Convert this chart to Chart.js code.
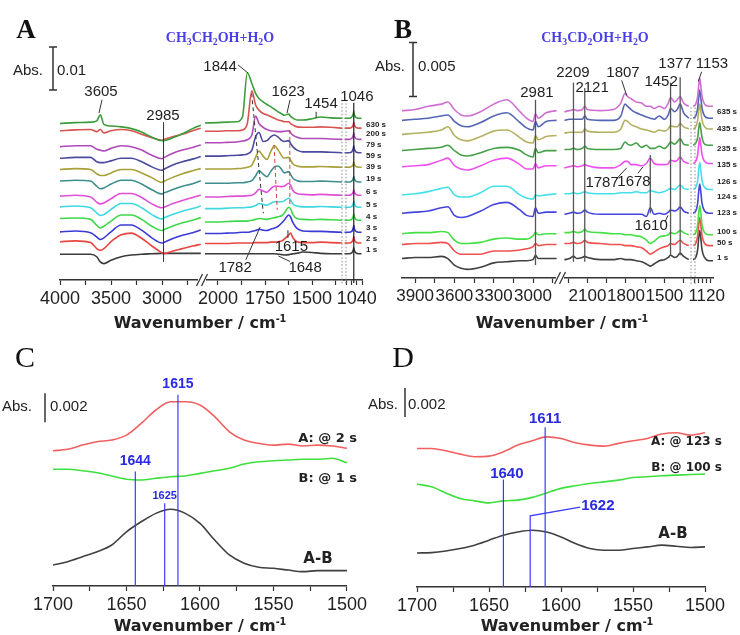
<!DOCTYPE html>
<html><head><meta charset="utf-8">
<script src="https://cdn.jsdelivr.net/npm/chart.js@4/dist/chart.umd.min.js"></script>
<style>
html,body{margin:0;padding:0;background:#fff}
body{width:740px;height:635px;position:relative;overflow:hidden;font-family:"Liberation Sans",Arial,sans-serif;color:#222}
canvas{position:absolute}
.t,.l,.r{position:absolute;line-height:1;white-space:nowrap}
.t{transform:translate(-50%,-50%)}
.l{transform:translate(0,-50%)}
.r{transform:translate(-100%,-50%)}
.let{font:bold 27px "Liberation Serif",serif;color:#111}
.let2{font:30px "Liberation Serif",serif;color:#111}
.chem{font:bold 14px "Liberation Serif",serif;color:#4a3ee6}
.chem sub{font-size:70%;vertical-align:-0.3em;line-height:0}
.abs{font:15px "Liberation Sans",Arial,sans-serif;color:#222}
.ax{font:bold 16px "DejaVu Sans",sans-serif;color:#222}
.ax sup{font-size:60%;vertical-align:0.6em;line-height:0}
.sl{font:bold 12px "DejaVu Sans",sans-serif;color:#222}
.ab{font:bold 15px "DejaVu Sans",sans-serif;color:#222}
</style></head><body>
<canvas id="cA" width="400" height="335" style="left:0;top:0"></canvas>
<canvas id="cB" width="370" height="335" style="left:370px;top:0"></canvas>
<canvas id="cC" width="370" height="305" style="left:0;top:330px"></canvas>
<canvas id="cD" width="370" height="305" style="left:370px;top:330px"></canvas>

<div class="t let" style="left:26px;top:29px">A</div>
<div class="t chem" style="left:220px;top:38px">CH<sub>3</sub>CH<sub>2</sub>OH+H<sub>2</sub>O</div>
<div class="t abs" style="left:28px;top:69px">Abs.</div>
<div class="l abs" style="left:57px;top:69px">0.01</div>
<div class="t ax" style="left:200px;top:322px">Wavenumber / cm<sup>-1</sup></div>

<div class="t let" style="left:403px;top:29px">B</div>
<div class="t chem" style="left:595px;top:38px">CH<sub>3</sub>CD<sub>2</sub>OH+H<sub>2</sub>O</div>
<div class="t abs" style="left:390px;top:65px">Abs.</div>
<div class="l abs" style="left:418px;top:65px">0.005</div>
<div class="t ax" style="left:562px;top:322px">Wavenumber / cm<sup>-1</sup></div>

<div class="t let2" style="left:25px;top:357px">C</div>
<div class="t abs" style="left:17px;top:405px">Abs.</div>
<div class="l abs" style="left:50px;top:405px">0.002</div>
<div class="r sl" style="left:357px;top:437px;font-size:13px">A: @ 2 s</div>
<div class="r sl" style="left:357px;top:477px;font-size:13px">B: @ 1 s</div>
<div class="t ab" style="left:318px;top:558px">A-B</div>
<div class="t ax" style="left:200px;top:625px">Wavenumber / cm<sup>-1</sup></div>

<div class="t let2" style="left:403px;top:357px">D</div>
<div class="t abs" style="left:383px;top:403px">Abs.</div>
<div class="l abs" style="left:408px;top:403px">0.002</div>
<div class="r sl" style="left:722px;top:441px">A: @ 123 s</div>
<div class="r sl" style="left:722px;top:467px">B: @ 100 s</div>
<div class="t ab" style="left:673px;top:533px">A-B</div>
<div class="t ax" style="left:567px;top:625px">Wavenumber / cm<sup>-1</sup></div>

<script>
// ================= DATA (absorbance in mAbs, wavenumbers in cm-1) =================
// Axis ticks and tick labels
const A_X1_TICKS = [4000,3750,3500,3250,3000,2750],  A_X1_LABELS = [4000,3500,3000];
const A_X2_TICKS = [2000,1875,1750,1625,1500,1375],  A_X2_LABELS = [2000,1750,1500];
const A_X3_TICKS = [1060,1050,1040,1030],            A_X3_LABELS = [1040];
const B_X1_TICKS = [3900,3750,3600,3450,3300,3150,3000,2850], B_X1_LABELS = [3900,3600,3300,3000];
const B_X2_TICKS = [2250,2100,1950,1800,1650,1500,1350],      B_X2_LABELS = [2100,1800,1500];
const B_X3_TICKS = [1180,1160,1140,1120,1100],                B_X3_LABELS = [1120];
const CD_TICKS  = [1700,1675,1650,1625,1600,1575,1550,1525,1500], CD_LABELS = [1700,1650,1600,1550,1500];

// Panel A : CH3CH2OH + H2O
const A_TIMES   = ['630 s','200 s','79 s','59 s','39 s','19 s','6 s','5 s','4 s','3 s','2 s','1 s'];
const A_COLORS  = ['#3a9d3a','#d9534f','#b04ab8','#4a4a9e','#a8a038','#3f8f8f','#e04fd8','#3fd8e0','#3fd84a','#3a3ad8','#e8453f','#3a3a3a'];
const A_OFFSETS = [36.4,34.7,31.0,28.3,25.7,23.0,19.5,17.0,14.3,11.2,8.9,6.0];
const A_LABEL_LEVELS = [36.0,34.0,31.4,28.8,26.3,23.5,20.5,17.4,14.7,12.1,9.5,7.0];
const A_SEG1_WN = [4000,3850,3700,3640,3605,3570,3500,3400,3300,3200,3100,3000,2985,2900,2800,2700,2620];
const A_SEG1 = [
 [0,0.2,0.3,0.6,2.0,-0.2,-0.6,-0.8,-1.2,-2.0,-3.2,-4.0,-4.0,-3.4,-2.4,-1.2,-0.4],
 [0,0.2,0.3,-0.2,0.3,-0.5,0,0.3,0,-0.8,-1.6,-2.2,-2.1,-1.4,-0.8,0,0.6],
 [0,0.2,0.2,-0.6,-0.8,-1.0,-0.4,0.2,0,-0.8,-2.0,-2.8,-2.6,-1.6,-0.8,-0.2,0.4],
 [0,0.2,0.2,-0.8,-1.0,-1.0,-0.6,0,0,-0.8,-2.0,-2.8,-2.6,-1.6,-0.8,-0.2,0.4],
 [0,0.2,0,-1.0,-1.4,-1.4,-0.8,0,0,-0.8,-1.9,-3.0,-2.8,-1.9,-1.0,-0.3,0.2],
 [0,0.2,0,-1.2,-1.8,-1.6,-0.7,0.2,0.2,-0.7,-2.0,-3.0,-2.8,-2.0,-1.2,-0.6,0.1],
 [0,0.2,-0.2,-1.4,-1.8,-1.6,-0.6,0.6,0.6,-0.3,-1.8,-2.7,-2.6,-1.8,-1.0,-0.3,0.2],
 [0,0.2,-0.2,-1.4,-2.0,-1.8,-0.6,0.8,0.8,-0.2,-1.8,-2.8,-2.6,-1.8,-1.0,-0.4,0.2],
 [0,0.1,-0.2,-1.6,-2.2,-1.8,-0.6,0.8,0.8,-0.2,-1.8,-2.8,-2.6,-1.8,-1.0,-0.4,0.2],
 [0,0.2,-0.2,-1.2,-1.8,-1.4,0,1.6,1.6,0.4,-1.4,-2.6,-2.5,-1.6,-0.8,-0.2,0.4],
 [0,0.2,-0.2,-1.6,-2.0,-1.6,0,1.6,2.0,0.8,-1.0,-2.6,-2.8,-2.2,-1.6,-1.0,-0.6],
 [0,0,0,-0.6,-1.8,-2.2,-1.4,-0.6,-0.2,0,0.1,0.2,0.2,0.2,0.2,0.2,0.2]
];
const A_SEG2_WN = [2069,2000,1950,1900,1870,1844,1820,1800,1782,1760,1740,1720,1700,1680,1660,1648,1623,1615,1600,1580,1550,1500,1454,1400,1340];
const A_SEG2 = [
 [0.1,0.2,0.3,0.4,1.5,11.8,9.3,7.0,5.8,5.0,4.4,3.9,3.3,2.7,2.2,1.9,2.2,1.7,1.2,0.8,0.8,1.1,1.5,1.3,1.2],
 [-0.1,-0.1,0,0,0.2,1.7,9.3,6.0,4.8,4.0,3.7,3.3,2.9,2.5,2.3,2.1,2.1,1.7,1.3,0.9,0.8,0.8,0.9,0.8,0.6],
 [0.9,0.9,1.0,1.1,1.3,1.6,2.7,7.1,5.4,4.5,4.0,3.7,3.6,3.5,3.5,3.6,3.7,3.3,2.6,2.2,1.9,1.9,1.9,1.8,1.7],
 [0.5,0.5,0.6,0.7,0.8,1.0,1.9,5.0,6.0,3.9,4.1,5.0,5.4,4.9,4.1,3.9,4.1,3.5,2.6,1.9,1.5,1.5,1.5,1.4,1.3],
 [0.1,0.1,0.1,0.2,0.3,0.5,1.0,2.8,4.3,3.1,2.3,4.1,5.5,4.5,3.1,2.6,2.8,2.2,1.2,0.8,0.6,0.6,0.7,0.6,0.5],
 [-0.5,-0.5,-0.5,-0.4,-0.4,-0.2,0.1,1.2,2.4,1.6,1.0,2.2,3.3,3.5,2.6,1.9,2.2,1.6,0.6,0.1,-0.1,-0.1,0,-0.1,-0.2],
 [-0.2,-0.2,-0.1,0,0,0.1,0.2,0.8,1.6,1.2,0.9,1.7,2.3,2.3,2.2,2.3,3.0,2.6,1.2,0.6,0.4,0.3,0.4,0.3,0.2],
 [-0.4,-0.4,-0.3,-0.2,-0.2,-0.1,0,0.3,0.8,0.6,0.4,0.8,1.2,1.2,1.2,1.4,2.0,1.6,0.6,0.2,0,0,0.1,0,-0.1],
 [-0.8,-0.8,-0.7,-0.6,-0.6,-0.6,-0.4,-0.2,0,-0.1,-0.2,0,0.2,0.4,0.7,1.2,2.6,2.3,0.8,0,-0.2,-0.3,-0.2,-0.3,-0.4],
 [-0.4,-0.4,-0.3,-0.2,-0.1,-0.1,0.1,0.3,0.6,0.4,0.3,0.6,0.9,1.3,2.1,2.7,3.9,3.5,2.0,0.8,0.2,0.1,0.1,0,-0.1],
 [-0.4,-0.4,-0.4,-0.3,-0.3,-0.3,-0.3,-0.2,-0.2,-0.2,-0.2,-0.1,-0.1,0,0.2,0.6,1.6,2.0,0.8,0,-0.2,-0.2,-0.1,-0.2,-0.3],
 [0.1,0.1,0.1,0.1,0.1,0.1,0.1,0.1,0.1,0.1,0.1,0.1,0.1,0,-0.1,-0.2,-0.1,0,0.1,0.2,0.5,0.4,0.2,0.1,0.1]
];
const A_SEG3_WN = [1064,1055,1050,1047,1046,1045,1042,1036,1031];
const A_SEG3 = [
 [1.2,1.2,1.5,2.2,2.8,2.1,1.4,1.2,1.2],
 [0.6,0.6,0.8,1.4,2.0,1.4,0.8,0.6,0.6],
 [1.7,1.7,1.9,2.6,3.2,2.5,1.9,1.7,1.7],
 [1.3,1.3,1.5,2.3,2.9,2.2,1.5,1.3,1.3],
 [0.5,0.5,0.7,1.2,1.7,1.2,0.7,0.5,0.5],
 [-0.2,-0.2,0,0.6,1.1,0.6,0,-0.2,-0.2],
 [0.2,0.2,0.4,1.0,1.5,1.0,0.4,0.2,0.2],
 [-0.1,-0.1,0.1,0.8,1.3,0.8,0.1,-0.1,-0.1],
 [-0.4,-0.4,-0.2,0.5,1.1,0.5,-0.2,-0.4,-0.4],
 [-0.1,-0.1,0.1,0.9,1.5,0.8,0.1,-0.1,-0.1],
 [-0.3,-0.3,-0.1,0.6,1.2,0.6,-0.1,-0.3,-0.3],
 [0.1,0.1,0.3,0.9,1.5,0.9,0.3,0.1,0.1]
];

// Panel B : CH3CD2OH + H2O
const B_TIMES   = ['635 s','435 s','235 s','135 s','126 s','124 s','123 s','100 s','50 s','1 s'];
const B_COLORS  = ['#cf6fd0','#5565b5','#b5b060','#45a048','#f050f0','#45e0ea','#4545dd','#45e045','#f05050','#404040'];
const B_OFFSETS = [15.5,14.6,13.3,11.8,10.3,7.7,6.0,4.1,3.1,1.8];
const B_LABEL_LEVELS = [15.4,13.8,12.0,10.5,8.9,7.5,6.0,4.3,3.3,1.9];
const B_SEG1_WN = [4000,3900,3800,3700,3650,3600,3550,3500,3400,3300,3200,3100,3050,3000,2981,2960,2900,2820];
const B_SEG1 = [
 [0,0.1,0.4,0.6,0.8,0.1,-0.4,-0.5,-0.1,0.6,1.0,-0.1,-0.7,-1.0,-0.3,-0.7,-0.2,0],
 [0,0.1,0.2,0.4,0.5,-0.1,-0.5,-0.6,-0.2,0.4,0.7,-0.2,-0.7,-0.9,-0.1,-0.6,-0.1,0],
 [0,0.1,0.2,0.4,0.7,-0.1,-0.5,-0.6,-0.2,0.3,0.4,-0.3,-0.7,-0.8,-0.1,-0.5,-0.2,-0.1],
 [0,0.1,0.2,0.3,0.5,0,-0.4,-0.5,-0.2,0.2,0.3,0,-0.4,-0.6,0.2,-0.2,0,0],
 [0,0.1,0.2,0.6,0.8,0.1,-0.2,-0.3,0.1,0.6,0.8,0.2,-0.2,-0.2,0.3,-0.1,0.1,0.1],
 [0,0.1,0.3,0.6,0.7,0,-0.2,-0.2,0.2,0.8,0.8,0,-0.3,-0.4,0,-0.1,0,0.1],
 [0,0.1,0.2,0.5,0.6,-0.2,-0.4,-0.3,0.2,0.8,1.0,0.3,-0.2,-0.3,0.5,0,0.1,0.1],
 [0,0.1,0.1,0.2,0.1,-0.6,-0.9,-0.9,-0.8,-0.5,-0.4,-0.5,-0.5,-0.2,0.1,-0.1,0,0],
 [0,0.1,0.1,0.2,0.1,-0.6,-0.9,-0.9,-0.9,-0.6,-0.6,-0.5,-0.4,-0.2,0.1,-0.1,0,0],
 [0,0.1,0.1,0.2,0,-0.6,-0.9,-1.0,-0.8,-0.4,-0.3,-0.2,-0.2,-0.1,0.3,0,0,0]
];
const B_SEG2_WN = [2280,2240,2209,2180,2140,2121,2100,2000,1900,1840,1807,1787,1760,1720,1678,1640,1610,1580,1540,1500,1470,1452,1420,1400,1377,1350,1310];
const B_SEG2 = [
 [-0.1,0,0.1,0,0.1,0.4,0.1,0,0.1,0.7,1.6,1.3,1.1,0.8,0.7,0.4,0.4,0.2,0.4,0.2,0.7,1.2,0.8,1.0,1.3,0.7,0.4],
 [0,0.1,0.1,0.1,0.1,0.4,0.1,0,0,0.4,1.5,1.3,1.0,0.7,0.5,0.3,0.2,0.1,0.4,0.1,0.5,1.1,0.8,1.0,1.5,0.7,0.2],
 [0.1,0.2,0.2,0.2,0.2,0.5,0.3,0.2,0.2,0.5,1.3,1.2,0.9,0.7,0.5,0.4,0.3,0.2,0.4,0.3,0.5,0.8,0.7,0.7,1.0,0.7,0.5],
 [0.1,0.1,0.2,0.1,0.2,0.4,0.2,0.1,0.1,0.2,0.8,0.6,0.5,0.7,0.3,0.5,0.2,0.2,0.4,0.2,0.5,0.8,0.6,0.8,1.1,0.6,0.5],
 [-0.1,0,0.1,0,0.1,0.2,0.1,-0.1,-0.1,0.2,0.5,0.5,0.2,0.2,0.1,0.3,0.8,0.3,0.2,0.2,0.3,0.6,0.5,0.6,0.9,0.5,0.3],
 [0.1,0.1,0.2,0.1,0.2,0.3,0.2,0.1,0.1,0.2,0.2,0.2,0.2,0.3,0.2,0.2,0.4,0.3,0.2,0.3,0.5,0.6,0.5,0.7,0.9,0.6,0.5],
 [-0.1,0,0.1,0,0.1,0.3,0.1,-0.1,-0.1,-0.1,-0.1,-0.1,-0.1,-0.1,-0.1,-0.3,0.5,-0.1,0,-0.1,0.1,0.3,0.2,0.3,0.6,0.2,0],
 [0.1,0.1,0.2,0.1,0.2,0.4,0.2,0.1,0,0,-0.1,-0.1,-0.1,-0.2,-0.3,-0.6,-0.9,-0.7,-0.3,-0.2,-0.1,0.1,0,0.1,0.3,0.1,-0.1],
 [0.1,0.1,0.2,0.1,0.2,0.4,0.2,0.1,0,0,-0.1,-0.1,-0.1,-0.2,-0.3,-0.6,-0.9,-0.7,-0.4,-0.2,-0.1,0.1,0,0.2,0.4,0.1,-0.1],
 [-0.1,0,0.2,0,0.1,0.2,0.1,-0.1,-0.1,0,-0.1,-0.1,-0.1,-0.2,-0.3,-0.5,-0.7,-0.5,-0.2,-0.1,0.1,0.3,0.1,0.2,0.5,0.2,-0.1]
];
const B_SEG3_WN = [1185,1172,1163,1158,1153,1148,1142,1130,1110,1090];
const B_SEG3 = [
 [0.4,0.6,1.3,2.3,3.0,2.3,1.3,0.6,0.4,0.4],
 [0.2,0.4,1.1,2.1,2.8,2.1,1.1,0.4,0.2,0.2],
 [0.5,0.7,1.3,2.2,2.8,2.2,1.3,0.7,0.5,0.5],
 [0.5,0.7,1.2,2.0,2.6,2.0,1.2,0.6,0.5,0.5],
 [0.3,0.5,1.1,2.0,2.7,2.0,1.1,0.5,0.3,0.3],
 [0.5,0.7,1.3,2.3,3.0,2.3,1.3,0.7,0.5,0.5],
 [0,0.2,0.9,2.0,2.7,2.0,0.9,0.2,0,0],
 [-0.1,0.1,0.8,1.9,2.6,1.9,0.8,0.1,-0.1,-0.1],
 [-0.1,0.1,0.8,1.8,2.5,1.8,0.8,0.1,-0.1,-0.1],
 [-0.1,0.1,0.8,1.9,2.6,1.9,0.8,0.1,-0.2,-0.2]
];

// Panels C and D : difference spectra 1700-1500 cm-1
const CD_WN = [1700,1690,1680,1670,1660,1650,1640,1630,1620,1610,1600,1590,1580,1570,1560,1550,1540,1530,1520,1510,1500];
const CD_COLORS = ['#f06060','#3ee03e','#404040'];
const C_OFFSETS = [9.3,8.0,1.4];
const C_A_2S  = [0.03,0.13,0.42,0.65,0.77,1.11,1.92,2.84,3.41,3.41,3.18,2.38,1.34,0.77,0.54,0.42,0.49,0.36,0.42,0.36,0.20];
const C_B_1S  = [0.05,0.05,-0.05,-0.19,-0.41,-0.64,-0.69,-0.57,-0.46,-0.41,-0.23,-0.05,0.12,0.41,0.57,0.64,0.69,0.74,0.74,0.81,0.50];
const C_DIFF  = [0.05,0.28,0.62,0.97,1.43,2.34,3.03,3.61,3.89,3.61,2.92,1.77,0.74,0.17,-0.11,-0.18,-0.30,-0.41,-0.34,-0.34,-0.34];
const D_OFFSETS = [9.5,7.0,2.3];
const D_A_123S = [0.04,0.04,-0.12,-0.35,-0.53,-0.49,-0.19,0.27,0.57,0.84,0.73,0.43,0.27,0.20,0.39,0.57,0.73,1.03,1.12,0.96,1.12];
const D_B_100S = [0.08,-0.10,-0.52,-0.90,-1.07,-1.21,-1.07,-1.02,-0.83,-0.52,-0.21,-0.03,0.13,0.24,0.36,0.54,0.59,0.66,0.70,0.75,0.77];
const D_DIFF   = [0.04,0.07,0.18,0.35,0.58,0.92,1.27,1.49,1.61,1.49,1.15,0.69,0.35,0.23,0.23,0.35,0.46,0.58,0.51,0.42,0.46];

// ================= helpers =================
const SANS = '"Liberation Sans", Arial, sans-serif';
function ds(wn, vals, off, color, axis, width){
  return {data: wn.map((w,i)=>({x:w, y:off+vals[i]})), borderColor:color, backgroundColor:color,
          xAxisID:axis, yAxisID:'y', borderWidth:width||1.6, pointRadius:0, fill:false,
          cubicInterpolationMode:'monotone'};
}
function xAxis(min, max, tickVals, labelVals, weight, fontSize, stack){
  const o = {type:'linear', position:'bottom', reverse:true, min, max,
    afterBuildTicks:(s)=>{ s.ticks = tickVals.map(v=>({value:v})); },
    ticks:{autoSkip:false, maxRotation:0, minRotation:0, padding:3, sampleSize:100,
      color:'#222', font:{size:fontSize, family:SANS},
      callback:(v)=> labelVals.indexOf(Math.round(v))>=0 ? String(Math.round(v)) : ''},
    grid:{display:true, drawOnChartArea:false, drawTicks:true, tickLength:5, color:'#333', tickWidth:1.2},
    border:{display:true, color:'#333', width:1.5},
    afterFit:(s)=>{ s.height = 30; }};
  if (stack){ o.stack = stack; o.stackWeight = weight; }
  return o;
}
function annot(cfg){
  return { id:'annot', afterDraw(chart){
    const ctx = chart.ctx, Y = (v)=>chart.scales.y.getPixelForValue(v);
    const X = (ax,w)=>chart.scales[ax].getPixelForValue(w);
    ctx.save();
    if (cfg.brk){
      const s = chart.scales[cfg.brk], bx = s.right, by = s.top;
      ctx.fillStyle = '#fff'; ctx.fillRect(bx-4, by-3, 8, 6);
      ctx.strokeStyle = '#333'; ctx.lineWidth = 1.2;
      [-2.5,2.5].forEach(d=>{ ctx.beginPath(); ctx.moveTo(bx+d-3, by+6); ctx.lineTo(bx+d+3, by-6); ctx.stroke(); });
    }
    if (cfg.dots){
      const s = chart.scales[cfg.dots.axis];
      ctx.strokeStyle = '#888'; ctx.lineWidth = 1; ctx.setLineDash([1.5,2]);
      [s.left-2, s.left+2].forEach(x=>{ ctx.beginPath(); ctx.moveTo(x, Y(cfg.dots.v0)); ctx.lineTo(x, Y(cfg.dots.v1)); ctx.stroke(); });
      ctx.setLineDash([]);
    }
    (cfg.lines||[]).forEach(l=>{
      ctx.beginPath(); ctx.strokeStyle = l.color||'#333'; ctx.lineWidth = l.width||1; ctx.setLineDash(l.dash||[]);
      l.pts.forEach((p,i)=>{ const x = X(p[0],p[1]), y = Y(p[2]); if(i) ctx.lineTo(x,y); else ctx.moveTo(x,y); });
      ctx.stroke(); ctx.setLineDash([]);
    });
    if (cfg.bar){
      const b = cfg.bar, y0 = Y(b.v0), y1 = Y(b.v1);
      ctx.strokeStyle = '#333'; ctx.lineWidth = 1.5; ctx.beginPath();
      ctx.moveTo(b.x, y0); ctx.lineTo(b.x, y1);
      if (b.cap){ ctx.moveTo(b.x-b.cap, y0); ctx.lineTo(b.x+b.cap, y0); ctx.moveTo(b.x-b.cap, y1); ctx.lineTo(b.x+b.cap, y1); }
      ctx.stroke();
    }
    (cfg.labels||[]).forEach(t=>{
      ctx.font = t.font || ('15px '+SANS); ctx.fillStyle = t.color||'#222';
      ctx.textAlign = t.align||'center'; ctx.textBaseline = 'middle';
      ctx.fillText(t.text, X(t.ax,t.wn), Y(t.v));
    });
    if (cfg.times){
      ctx.font = 'bold 8px '+SANS; ctx.fillStyle = '#222'; ctx.textAlign = 'left'; ctx.textBaseline = 'middle';
      cfg.times.texts.forEach((t,i)=> ctx.fillText(t, chart.chartArea.right + cfg.times.dx, Y(cfg.times.levels[i])));
    }
    ctx.restore();
  }};
}
const baseOpts = (padding, ymax, scales)=>({
  responsive:false, animation:false, devicePixelRatio:1, events:[],
  layout:{padding},
  plugins:{legend:{display:false}, tooltip:{enabled:false}},
  elements:{point:{radius:0}},
  scales: Object.assign({y:{display:false, min:0, max:ymax}}, scales)
});

// ================= Panel A =================
const dsA = [];
A_TIMES.forEach((t,i)=>{
  dsA.push(ds(A_SEG1_WN, A_SEG1[i], A_OFFSETS[i], A_COLORS[i], 'x1'));
  dsA.push(ds(A_SEG2_WN, A_SEG2[i], A_OFFSETS[i], A_COLORS[i], 'x2'));
  dsA.push(ds(A_SEG3_WN, A_SEG3[i], A_OFFSETS[i], A_COLORS[i], 'x3'));
});
new Chart(document.getElementById('cA'), {
  type:'line', data:{datasets:dsA},
  options: baseOpts({left:60,right:38,top:40,bottom:25}, 55.8, {
    x1: xAxis(2608,4000,A_X1_TICKS,A_X1_LABELS,142,18,'a'),
    x2: xAxis(1330,2085,A_X2_TICKS,A_X2_LABELS,142,18,'a'),
    x3: xAxis(1030,1065,A_X3_TICKS,A_X3_LABELS,18,18,'a')
  }),
  plugins:[annot({
    brk:'x1', dots:{axis:'x3', v0:41.9, v1:-1.2},
    bar:{x:53, v0:44.2, v1:54.2, cap:4},
    lines:[
      {pts:[['x1',2985,36.7],['x1',2985,4.2]], color:'#333'},
      {pts:[['x3',1046,41.2],['x3',1046,-0.7]], color:'#222', width:1.2},
      {pts:[['x2',1821,43.4],['x2',1759,15.5]], color:'#333', dash:[4,3]},
      {pts:[['x2',1702,31.4],['x2',1685,16.3]], color:'#d04040', dash:[4,3]},
      {pts:[['x2',1618,34.9],['x2',1618,17.0]], color:'#b05050', dash:[4,3]},
      {pts:[['x1',3588,41.9],['x1',3618,38.8]]},
      {pts:[['x2',1893,50.0],['x2',1840,48.1]]},
      {pts:[['x2',1617,41.9],['x2',1633,38.8]]},
      {pts:[['x2',1478,39.1],['x2',1478,37.7]]},
      {pts:[['x2',1628,9.8],['x2',1628,11.6]]},
      {pts:[['x2',1852,4.7],['x2',1776,12.3]]},
      {pts:[['x2',1617,4.3],['x2',1679,5.6]]}
    ],
    labels:[
      {ax:'x1',wn:3598,v:43.7,text:'3605'},
      {ax:'x1',wn:2990,v:38.1,text:'2985'},
      {ax:'x2',wn:1989,v:49.5,text:'1844'},
      {ax:'x2',wn:1627,v:43.7,text:'1623'},
      {ax:'x2',wn:1452,v:40.9,text:'1454'},
      {ax:'x3',wn:1040,v:42.6,text:'1046'},
      {ax:'x2',wn:1610,v:7.7,text:'1615'},
      {ax:'x2',wn:1909,v:2.8,text:'1782'},
      {ax:'x2',wn:1537,v:2.8,text:'1648'}
    ],
    times:{texts:A_TIMES, levels:A_LABEL_LEVELS, dx:4}
  })]
});

// ================= Panel B =================
const dsB = [];
B_TIMES.forEach((t,i)=>{
  dsB.push(ds(B_SEG1_WN, B_SEG1[i], B_OFFSETS[i], B_COLORS[i], 'x1'));
  dsB.push(ds(B_SEG2_WN, B_SEG2[i], B_OFFSETS[i], B_COLORS[i], 'x2'));
  dsB.push(ds(B_SEG3_WN, B_SEG3[i], B_OFFSETS[i], B_COLORS[i], 'x3'));
});
new Chart(document.getElementById('cB'), {
  type:'line', data:{datasets:dsB},
  options: baseOpts({left:32,right:27,top:40,bottom:27}, 22.04, {
    x1: xAxis(2794,4000,B_X1_TICKS,B_X1_LABELS,158,17,'b'),
    x2: xAxis(1277,2314,B_X2_TICKS,B_X2_LABELS,133,17,'b'),
    x3: xAxis(1090,1185,B_X3_TICKS,B_X3_LABELS,20,17,'b')
  }),
  plugins:[annot({
    brk:'x1', dots:{axis:'x3', v0:15.8, v1:-0.6},
    bar:{x:43, v0:16.8, v1:21.8, cap:4},
    lines:[
      {pts:[['x1',2981,16.5],['x1',2981,1.2]], color:'#555', width:1.3},
      {pts:[['x2',2209,18.1],['x2',2209,1.5]], color:'#555', width:1.3},
      {pts:[['x2',2121,17.6],['x2',2121,1.5]], color:'#555', width:1.3},
      {pts:[['x2',1452,18.1],['x2',1452,2.1]], color:'#555', width:1.3},
      {pts:[['x2',1377,18.6],['x2',1377,2.1]], color:'#555', width:1.3},
      {pts:[['x2',1610,11.4],['x2',1610,6.0]], color:'#555', width:1.3},
      {pts:[['x2',1833,18.3],['x2',1794,16.9]]},
      {pts:[['x3',1144,19.1],['x3',1160,18.2]]},
      {pts:[['x2',1872,9.2],['x2',1794,10.2]]},
      {pts:[['x2',1706,9.7],['x2',1667,10.3]]},
      {pts:[['x2',1495,5.2],['x2',1472,5.8]]}
    ],
    labels:[
      {ax:'x1',wn:2970,v:17.1,text:'2981'},
      {ax:'x2',wn:2213,v:19.0,text:'2209'},
      {ax:'x2',wn:2064,v:17.6,text:'2121'},
      {ax:'x2',wn:1823,v:19.0,text:'1807'},
      {ax:'x2',wn:1526,v:18.2,text:'1452'},
      {ax:'x2',wn:1417,v:19.8,text:'1377'},
      {ax:'x3',wn:1095,v:19.8,text:'1153'},
      {ax:'x2',wn:1986,v:8.8,text:'1787'},
      {ax:'x2',wn:1737,v:8.9,text:'1678'},
      {ax:'x2',wn:1604,v:4.8,text:'1610'}
    ],
    times:{texts:B_TIMES, levels:B_LABEL_LEVELS, dx:4}
  })]
});

// ================= Panels C, D =================
const BLUE = '#3a3aff';
function cdChart(id, pad, ymax, series, offs, cfg){
  const datasets = series.map((s,i)=>ds(CD_WN, s, offs[i], CD_COLORS[i], 'x', 1.6));
  new Chart(document.getElementById(id), {
    type:'line', data:{datasets},
    options: baseOpts(pad, ymax, {x: xAxis(1500,1700,CD_TICKS,CD_LABELS,1,18,null)}),
    plugins:[annot(cfg)]
  });
}
cdChart('cC', {left:53,right:20,top:30,bottom:19}, 15.59, [C_A_2S, C_B_1S, C_DIFF], C_OFFSETS, {
  bar:{x:45, v0:11.3, v1:13.3, cap:0},
  lines:[
    {pts:[['x',1615,13.2],['x',1615,0]], color:BLUE, width:1.2},
    {pts:[['x',1644,7.9],['x',1644,0]], color:BLUE, width:1.2},
    {pts:[['x',1624,5.7],['x',1624,0]], color:BLUE, width:1.2}
  ],
  labels:[
    {ax:'x',wn:1615,v:13.9,text:'1615',color:'#2a2ae0',font:'bold 14px '+SANS},
    {ax:'x',wn:1644,v:8.6,text:'1644',color:'#2a2ae0',font:'bold 14px '+SANS},
    {ax:'x',wn:1624,v:6.2,text:'1625',color:'#2a2ae0',font:'bold 11px '+SANS}
  ]
});
cdChart('cD', {left:47,right:35,top:30,bottom:18}, 15.63, [D_A_123S, D_B_100S, D_DIFF], D_OFFSETS, {
  bar:{x:35, v0:11.7, v1:13.7, cap:0},
  lines:[
    {pts:[['x',1611,11.0],['x',1611,0]], color:BLUE, width:1.2},
    {pts:[['x',1640,7.4],['x',1640,0]], color:BLUE, width:1.2},
    {pts:[['x',1621.4,0],['x',1621.4,4.9],['x',1586.7,5.5]], color:BLUE, width:1.2}
  ],
  labels:[
    {ax:'x',wn:1611,v:11.6,text:'1611',color:'#2a2ae0',font:'bold 15px '+SANS},
    {ax:'x',wn:1637.6,v:7.8,text:'1640',color:'#2a2ae0',font:'bold 15px '+SANS},
    {ax:'x',wn:1586,v:5.6,text:'1622',color:'#2a2ae0',font:'bold 15px '+SANS,align:'left'}
  ]
});
</script>
</body></html>
